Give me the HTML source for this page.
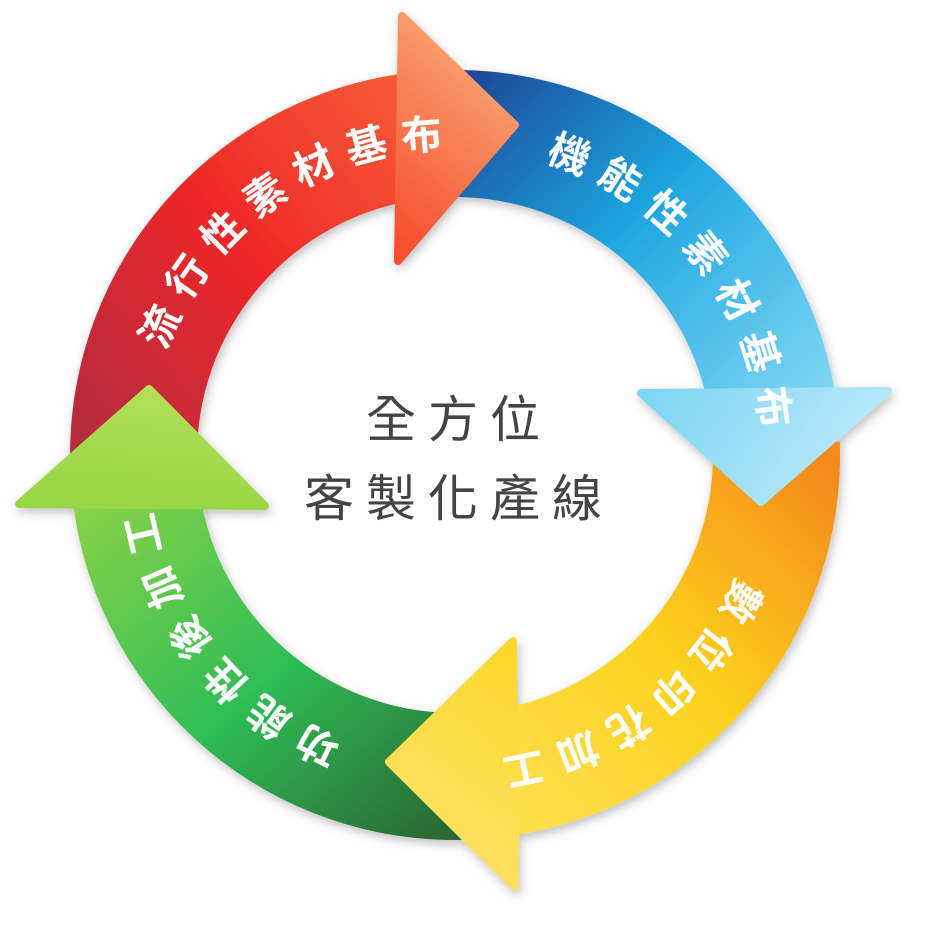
<!DOCTYPE html>
<html><head><meta charset="utf-8"><style>
html,body{margin:0;padding:0;background:#fff;width:925px;height:927px;overflow:hidden}
svg{display:block}
</style></head><body>
<svg width="925" height="927" viewBox="0 0 925 927" xmlns="http://www.w3.org/2000/svg">
<defs>
<linearGradient id="gr" gradientUnits="userSpaceOnUse" x1="100" y1="440" x2="500" y2="110">
<stop offset="0" stop-color="#b82a3e"/><stop offset="0.45" stop-color="#ee2828"/><stop offset="1" stop-color="#f8683a"/></linearGradient>
<linearGradient id="grh" gradientUnits="userSpaceOnUse" x1="400" y1="240" x2="510" y2="110">
<stop offset="0" stop-color="#f65030"/><stop offset="1" stop-color="#f99868"/></linearGradient>
<linearGradient id="gb" gradientUnits="userSpaceOnUse" x1="470" y1="80" x2="800" y2="420">
<stop offset="0" stop-color="#1d4a98"/><stop offset="0.45" stop-color="#1fa6e0"/><stop offset="1" stop-color="#7fd6f3"/></linearGradient>
<linearGradient id="gbh" gradientUnits="userSpaceOnUse" x1="650" y1="395" x2="800" y2="500">
<stop offset="0" stop-color="#7ed6f3"/><stop offset="1" stop-color="#b2e6f8"/></linearGradient>
<linearGradient id="gy" gradientUnits="userSpaceOnUse" x1="830" y1="470" x2="520" y2="800">
<stop offset="0" stop-color="#f58a1e"/><stop offset="0.55" stop-color="#fcd21f"/><stop offset="1" stop-color="#fddd4a"/></linearGradient>
<linearGradient id="gyh" gradientUnits="userSpaceOnUse" x1="515" y1="650" x2="400" y2="800">
<stop offset="0" stop-color="#fcd72a"/><stop offset="1" stop-color="#fde060"/></linearGradient>
<linearGradient id="gg" gradientUnits="userSpaceOnUse" x1="440" y1="830" x2="110" y2="450">
<stop offset="0" stop-color="#2b6a35"/><stop offset="0.45" stop-color="#2fbd55"/><stop offset="1" stop-color="#8fd448"/></linearGradient>
<linearGradient id="ggh" gradientUnits="userSpaceOnUse" x1="140" y1="510" x2="150" y2="390">
<stop offset="0" stop-color="#96d646"/><stop offset="1" stop-color="#b2de58"/></linearGradient>
<filter id="sh" x="-10%" y="-10%" width="120%" height="120%"><feDropShadow dx="2" dy="4" stdDeviation="5" flood-color="#000" flood-opacity="0.25"/></filter>
<path id="tp" d="M455 148 A307 307 0 1 1 455 762 A307 307 0 1 1 455 148 A307 307 0 1 1 455 762 A307 307 0 1 1 455 148" fill="none"/>
</defs>
<g filter="url(#sh)" stroke-linejoin="round">
<path d="M72.9 501.9 A385 385 0 0 1 401.4 73.7 L400 202.9 A258 258 0 0 0 199 486.4 Z" fill="url(#gr)"/>
<path d="M441.6 70.2 A385 385 0 0 1 834.8 392.1 L705.1 391.7 A258 258 0 0 0 446 197.2 Z" fill="url(#gb)"/>
<path d="M839.8 441.6 A385 385 0 0 1 515.2 835.3 L514.8 706 A258 258 0 0 0 712.8 446 Z" fill="url(#gy)"/>
<path d="M468.4 839.8 A385 385 0 0 1 73.3 505.2 L201.9 505.1 A258 258 0 0 0 464 712.8 Z" fill="url(#gg)"/>
<polygon points="402,16 515,125 398,261" fill="url(#grh)" stroke="url(#grh)" stroke-width="8"/>
<polygon points="641,393 888,391 761,502" fill="url(#gbh)" stroke="url(#gbh)" stroke-width="8"/>
<polygon points="513,641 515,887 389,762" fill="url(#gyh)" stroke="url(#gyh)" stroke-width="8"/>
<polygon points="19,504 265,506 149,389" fill="url(#ggh)" stroke="url(#ggh)" stroke-width="8"/>
</g>
<g font-family="'Liberation Sans','Noto Sans CJK TC',sans-serif" font-size="41" font-weight="bold" fill="#fff" text-anchor="middle" letter-spacing="13">
<text><textPath href="#tp" startOffset="1741">流行性素材基布</textPath></text>
<text><textPath href="#tp" startOffset="280">機能性素材基布</textPath></text>
<text><textPath href="#tp" startOffset="769">數位印花加工</textPath></text>
<text><textPath href="#tp" startOffset="1241">功能性後加工</textPath></text>
</g>
<g font-family="'Liberation Sans','Noto Sans CJK TC',sans-serif" font-size="50" fill="#444" text-anchor="middle">
<text x="459" y="437" letter-spacing="12">全方位</text>
<text x="459" y="516" letter-spacing="12">客製化產線</text>
</g>
</svg>
</body></html>
